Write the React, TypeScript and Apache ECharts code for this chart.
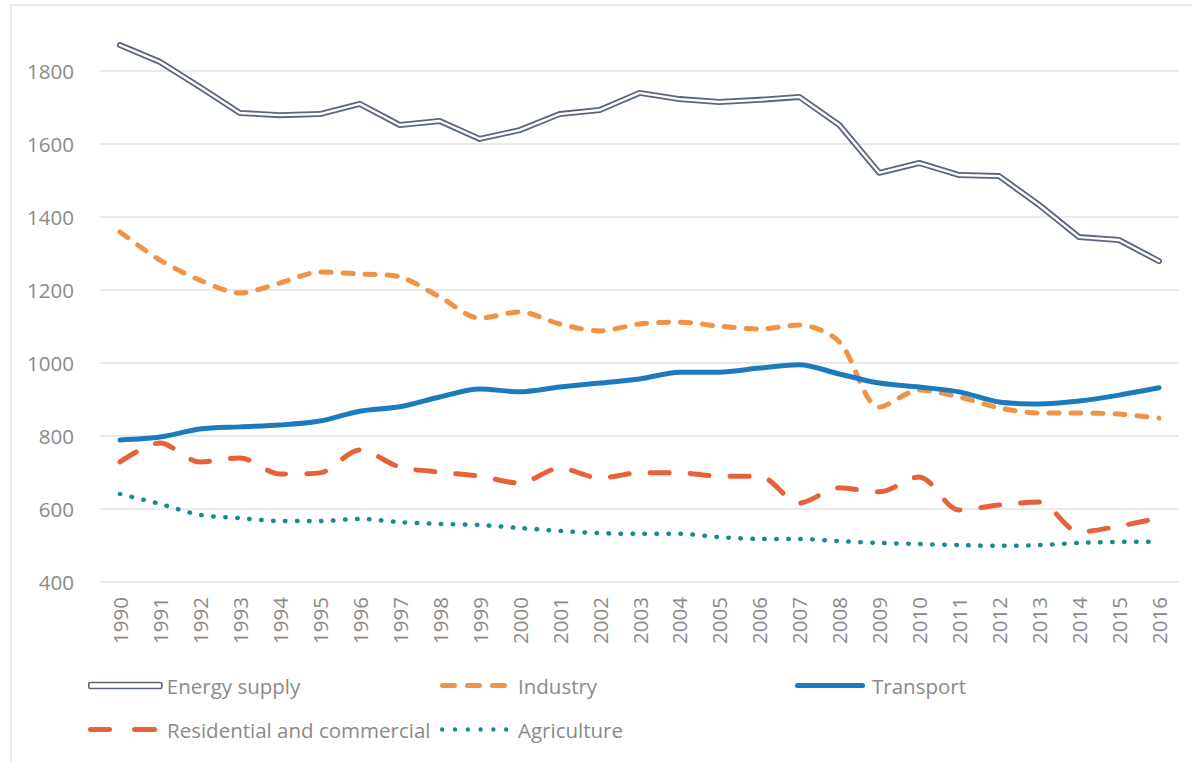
import React, { useEffect, useRef } from "react";
import * as echarts from "echarts";

const years = [
  "1990", "1991", "1992", "1993", "1994", "1995", "1996", "1997", "1998", "1999",
  "2000", "2001", "2002", "2003", "2004", "2005", "2006", "2007", "2008", "2009",
  "2010", "2011", "2012", "2013", "2014", "2015", "2016",
];

const energySupply = [
  1871, 1825, 1756, 1685, 1679, 1682, 1710, 1652, 1663, 1614,
  1638, 1682, 1693, 1740, 1723, 1715, 1721, 1729, 1652, 1521,
  1548, 1515, 1512, 1433, 1345, 1337, 1279,
];
const industry = [
  1359, 1282, 1227, 1192, 1219, 1249, 1244, 1236, 1181, 1123,
  1140, 1107, 1088, 1107, 1112, 1101, 1093, 1104, 1058, 879,
  926, 907, 877, 863, 863, 860, 849,
];
const transport = [
  789, 797, 819, 825, 830, 841, 868, 880, 907, 929,
  921, 934, 945, 956, 975, 975, 986, 995, 970, 945,
  934, 921, 893, 888, 896, 912, 932,
];
const residential = [
  729, 781, 729, 740, 696, 699, 762, 715, 701, 690,
  671, 712, 685, 699, 699, 690, 690, 616, 658, 647,
  688, 597, 611, 619, 537, 553, 575,
];
const agriculture = [
  641, 614, 584, 575, 567, 567, 573, 564, 559, 556,
  548, 540, 534, 532, 532, 523, 518, 518, 512, 507,
  504, 501, 499, 501, 507, 510, 510,
];

const yTicks = { min: 400, max: 1800, interval: 200 };

const FONT = "'Open Sans', sans-serif";
const TEXT = "#8a8a8a";
const C_ENERGY = "#5b6679";
const C_IND = "#ef9447";
const C_TRANS = "#1b7bbd";
const C_RES = "#e7623a";
const C_AGR = "#1a8a8c";

// rounded dash segment for legend icon paths
function dash(x: number, len: number, h: number) {
  const r = h / 2;
  const m = len - 2 * r;
  return `M${x + r},0 h${m} a${r},${r} 0 0 1 0,${h} h${-m} a${r},${r} 0 0 1 0,${-h} Z `;
}
function dot(cx: number, r: number) {
  return `M${cx - r},${r} a${r},${r} 0 1 0 ${2 * r},0 a${r},${r} 0 1 0 ${-2 * r},0 Z `;
}

export default function App() {
  const ref = useRef<HTMLDivElement>(null);
  useEffect(() => {
    if (!ref.current) return;
    const chart = echarts.init(ref.current, undefined, { renderer: "svg" });

    const iconIndustry = "path://" + dash(0, 17, 5) + dash(25, 17, 5) + dash(50, 17, 5) + "M73,0";
    const iconTransport = "path://" + dash(0, 70, 5) + "M72,0";
    const iconResidential = "path://" + dash(0, 24, 5) + dash(44, 25, 5) + "M74,0";
    let agr = "";
    for (let i = 0; i < 6; i++) agr += dot(2.2 + i * 12.8, 2.2);
    const iconAgriculture = "path://" + agr + "M73,0";

    const legendBase = {
      orient: "horizontal",
      padding: 0,
      itemHeight: 5,
      selectedMode: false,
      textStyle: { fontFamily: FONT, fontSize: 20.5, color: TEXT },
    };
    chart.setOption({
      animation: false,
      backgroundColor: "#ffffff",
      textStyle: { fontFamily: FONT },
      graphic: [
        { type: "line", shape: { x1: 11, y1: 5, x2: 1192, y2: 5 }, style: { stroke: "#e4e4e4", lineWidth: 1.5 } },
        { type: "line", shape: { x1: 11, y1: 5, x2: 11, y2: 762 }, style: { stroke: "#e4e4e4", lineWidth: 1.5 } },
      ],
      grid: { left: 100, right: 13, top: 71, bottom: 180, containLabel: false },
      xAxis: {
        type: "category",
        data: years,
        boundaryGap: true,
        axisLine: { show: false },
        axisTick: { show: false },
        axisLabel: { rotate: 90, margin: 15, fontSize: 20.5, color: TEXT, fontFamily: FONT },
        splitLine: { show: false },
      },
      yAxis: {
        type: "value",
        min: yTicks.min,
        max: yTicks.max,
        interval: yTicks.interval,
        axisLine: { show: false },
        axisTick: { show: false },
        axisLabel: {
          margin: 26,
          fontSize: 20.5,
          color: TEXT,
          fontFamily: FONT,
          formatter: (v: number) => String(v),
        },
        splitLine: { lineStyle: { color: "#e3e3e3", width: 1.5 } },
      },
      legend: [
        {
          ...legendBase,
          left: 88,
          top: 675,
          itemWidth: 73,
          itemHeight: 6,
          data: [
            {
              name: "Energy supply",
              icon: "roundRect",
              itemStyle: { color: "#ffffff", borderColor: C_ENERGY, borderWidth: 1.6 },
            },
          ],
        },
        {
          ...legendBase,
          left: 440,
          top: 675,
          itemWidth: 73,
          data: [{ name: "Industry", icon: iconIndustry, itemStyle: { color: C_IND, borderWidth: 0 } }],
        },
        {
          ...legendBase,
          left: 795,
          top: 675,
          itemWidth: 72,
          data: [{ name: "Transport", icon: iconTransport, itemStyle: { color: C_TRANS, borderWidth: 0 } }],
        },
        {
          ...legendBase,
          left: 88,
          top: 719,
          itemWidth: 74,
          data: [{ name: "Residential and commercial", icon: iconResidential, itemStyle: { color: C_RES, borderWidth: 0 } }],
        },
        {
          ...legendBase,
          left: 440,
          top: 719,
          itemWidth: 73,
          itemHeight: 4.4,
          data: [{ name: "Agriculture", icon: iconAgriculture, itemStyle: { color: C_AGR, borderWidth: 0 } }],
        },
      ],
      series: [
        {
          name: "Energy supply",
          type: "line",
          data: energySupply,
          symbol: "none",
          clip: false,
          color: C_ENERGY,
          lineStyle: { color: C_ENERGY, width: 6, join: "round", cap: "round" },
          z: 3,
        },
        {
          name: "Energy supply inner",
          type: "line",
          data: energySupply,
          symbol: "none",
          clip: false,
          lineStyle: { color: "#ffffff", width: 2.4, join: "round", cap: "round" },
          z: 4,
          silent: true,
        },
        {
          name: "Industry",
          type: "line",
          data: industry,
          symbol: "none",
          smooth: 0.3,
          color: C_IND,
          lineStyle: { color: C_IND, width: 5, type: [10, 12], cap: "round" },
          z: 2,
        },
        {
          name: "Transport",
          type: "line",
          data: transport,
          symbol: "none",
          smooth: 0.3,
          color: C_TRANS,
          lineStyle: { color: C_TRANS, width: 5, cap: "round" },
          z: 2,
        },
        {
          name: "Residential and commercial",
          type: "line",
          data: residential,
          symbol: "none",
          smooth: 0.3,
          color: C_RES,
          lineStyle: { color: C_RES, width: 5, type: [19, 21], cap: "round" },
          z: 2,
        },
        {
          name: "Agriculture",
          type: "line",
          data: agriculture,
          symbol: "none",
          smooth: 0.3,
          color: C_AGR,
          lineStyle: { color: C_AGR, width: 4.5, type: [0.5, 11.5], cap: "round" },
          z: 2,
        },
      ],
    });
    return () => chart.dispose();
  }, []);
  return (
    <div
      ref={ref}
      style={{ position: "fixed", left: 0, top: 0, width: 1192, height: 762, background: "#fff" }}
    />
  );
}
